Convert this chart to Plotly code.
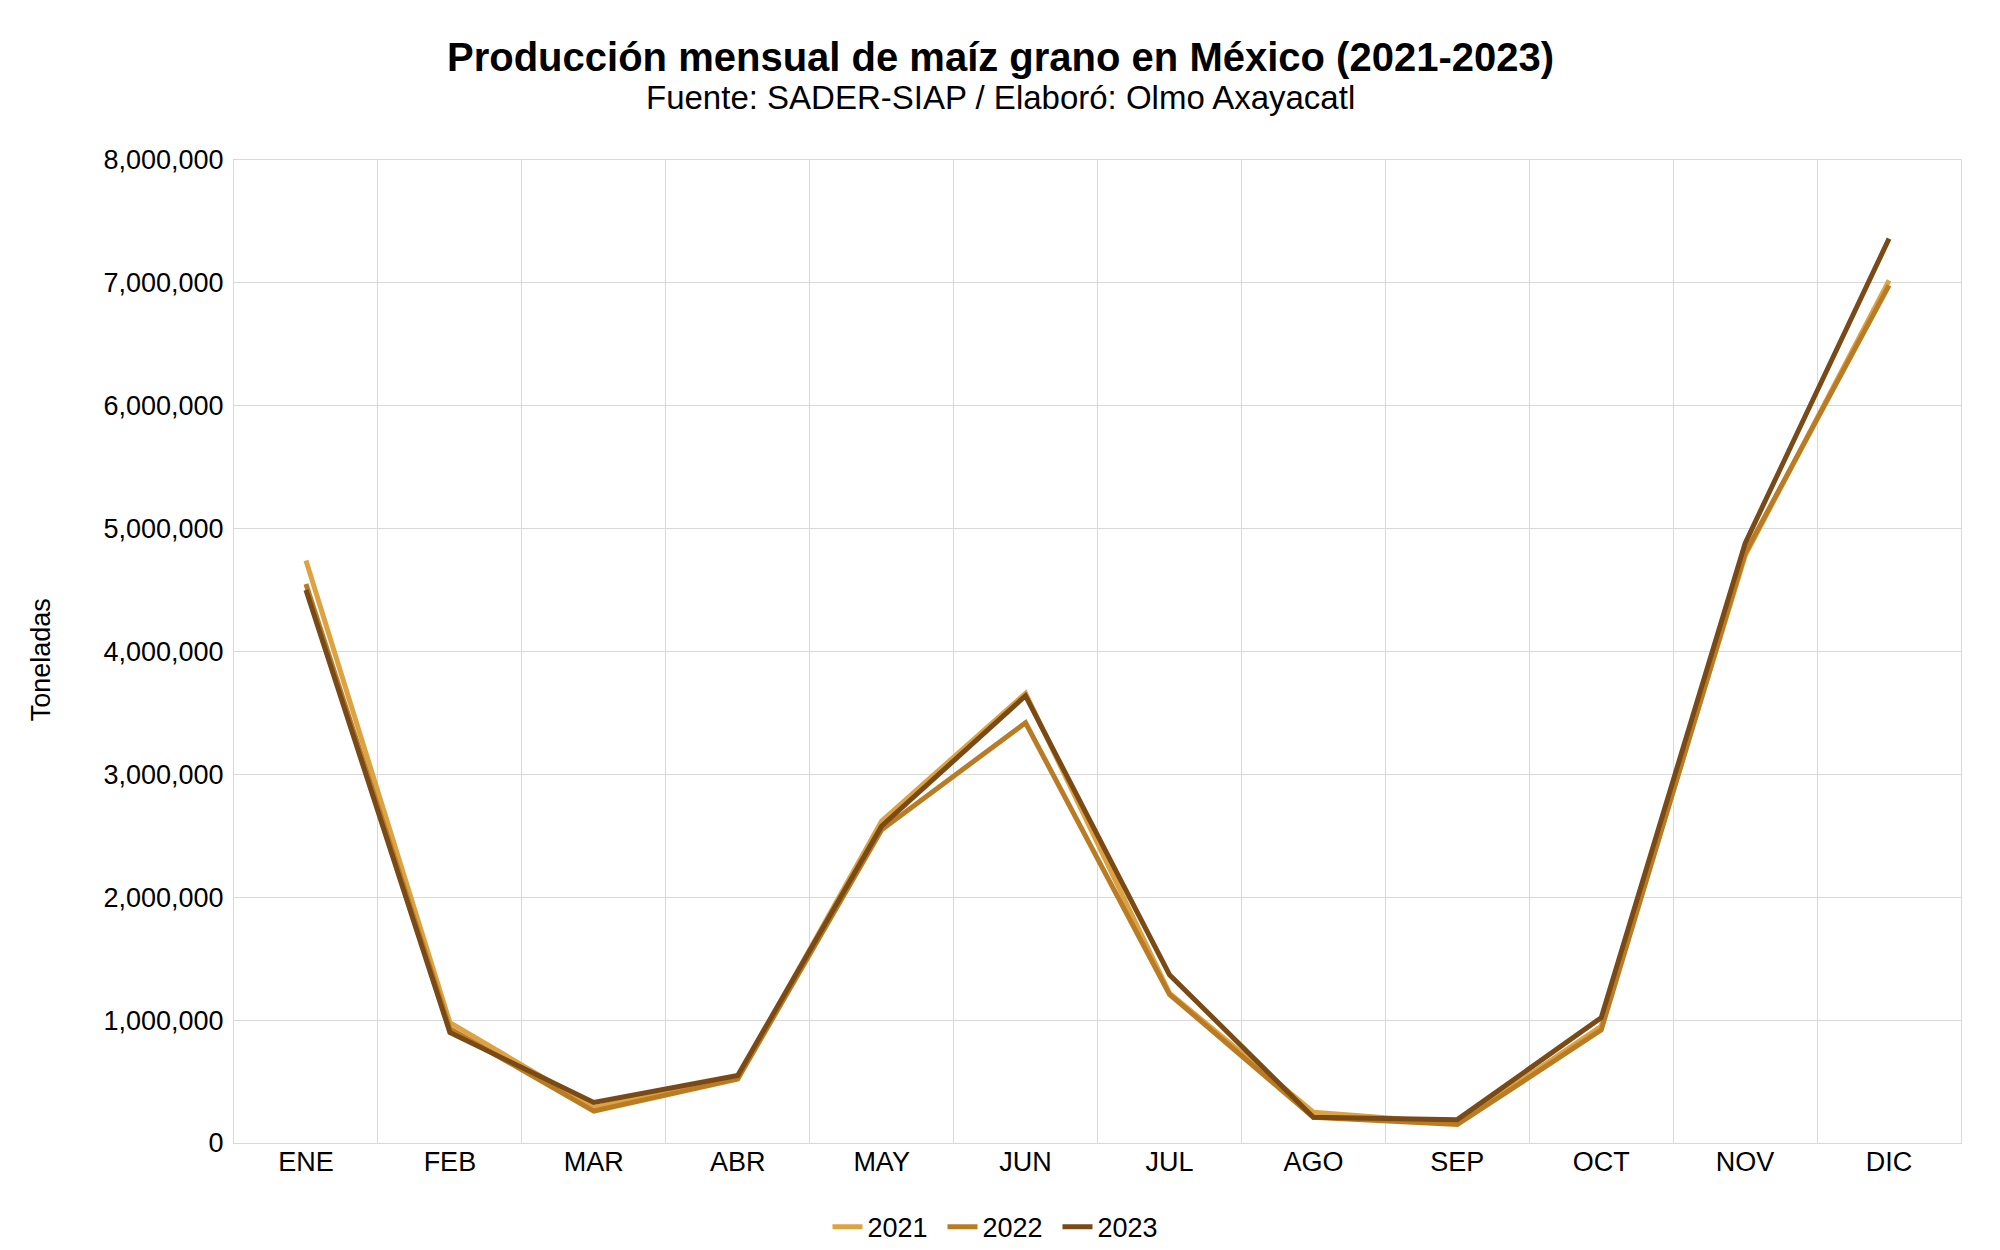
import plotly.graph_objects as go

months = ["ENE", "FEB", "MAR", "ABR", "MAY", "JUN", "JUL", "AGO", "SEP", "OCT", "NOV", "DIC"]
years = ["2021", "2022", "2023"]
prod_2021 = [4740000, 980000, 290000, 530000, 2620000, 3660000, 1220000, 250000, 160000, 950000, 4780000, 7020000]
prod_2022 = [4550000, 930000, 260000, 520000, 2550000, 3420000, 1210000, 210000, 150000, 920000, 4800000, 6980000]
prod_2023 = [4500000, 900000, 330000, 550000, 2580000, 3640000, 1370000, 210000, 190000, 1020000, 4880000, 7360000]
colors = ["#DDA343", "#B97C24", "#7A4A16"]
y_ticks = [0, 1000000, 2000000, 3000000, 4000000, 5000000, 6000000, 7000000, 8000000]

FONT = "Liberation Sans, Arial, sans-serif"
GRID = "#d9d9d9"

fig = go.Figure()
x_pos = list(range(len(months)))
for name, vals, col in zip(years, [prod_2021, prod_2022, prod_2023], colors):
    fig.add_trace(go.Scatter(
        x=x_pos, y=vals, name=name, mode="lines",
        line=dict(color=col, width=5),
    ))

fig.update_layout(
    paper_bgcolor="white", plot_bgcolor="white",
    margin=dict(l=226, r=31, t=152, b=99),
    font=dict(family=FONT, color="black"),
    showlegend=True,
    legend=dict(orientation="h", xref="container", x=0.5, xanchor="center",
                yref="container", y=0.012, yanchor="middle",
                font=dict(size=27, family=FONT), itemwidth=30, tracegroupgap=0,
                entrywidth=70, entrywidthmode="pixels"),
    annotations=[
        dict(text="<b>Producción mensual de maíz grano en México (2021-2023)</b>",
             xref="paper", yref="paper", x=0.4439, y=1.105, xanchor="center", yanchor="middle",
             showarrow=False, font=dict(size=40, family=FONT, color="black")),
        dict(text="Fuente: SADER-SIAP / Elaboró: Olmo Axayacatl",
             xref="paper", yref="paper", x=0.4439, y=1.0636, xanchor="center", yanchor="middle",
             showarrow=False, font=dict(size=33, family=FONT, color="black")),
        dict(text="Toneladas", xref="paper", yref="paper", x=-0.112, y=0.4916,
             xanchor="center", yanchor="middle", textangle=-90, showarrow=False,
             font=dict(size=27, family=FONT, color="black")),
    ],
)

fig.update_xaxes(
    range=[-0.5, 11.5],
    tickmode="array", tickvals=x_pos, ticktext=months,
    showgrid=False, zeroline=False,
    showline=True, mirror=True, linecolor=GRID, linewidth=1,
    ticks="", ticklabelstandoff=-5,
    tickfont=dict(size=27, family=FONT, color="black"),
    minor=dict(tickmode="linear", tick0=0.5, dtick=1, showgrid=True, gridcolor=GRID, gridwidth=1, ticks=""),
)
fig.update_yaxes(
    range=[0, 8000000],
    tickmode="array", tickvals=y_ticks, ticktext=[f"{v:,}" for v in y_ticks],
    showgrid=True, gridcolor=GRID, gridwidth=1, zeroline=False,
    showline=True, mirror=True, linecolor=GRID, linewidth=1,
    ticks="", ticklabelstandoff=4,
    tickfont=dict(size=27, family=FONT, color="black"),
)

fig.write_html("out.html")
